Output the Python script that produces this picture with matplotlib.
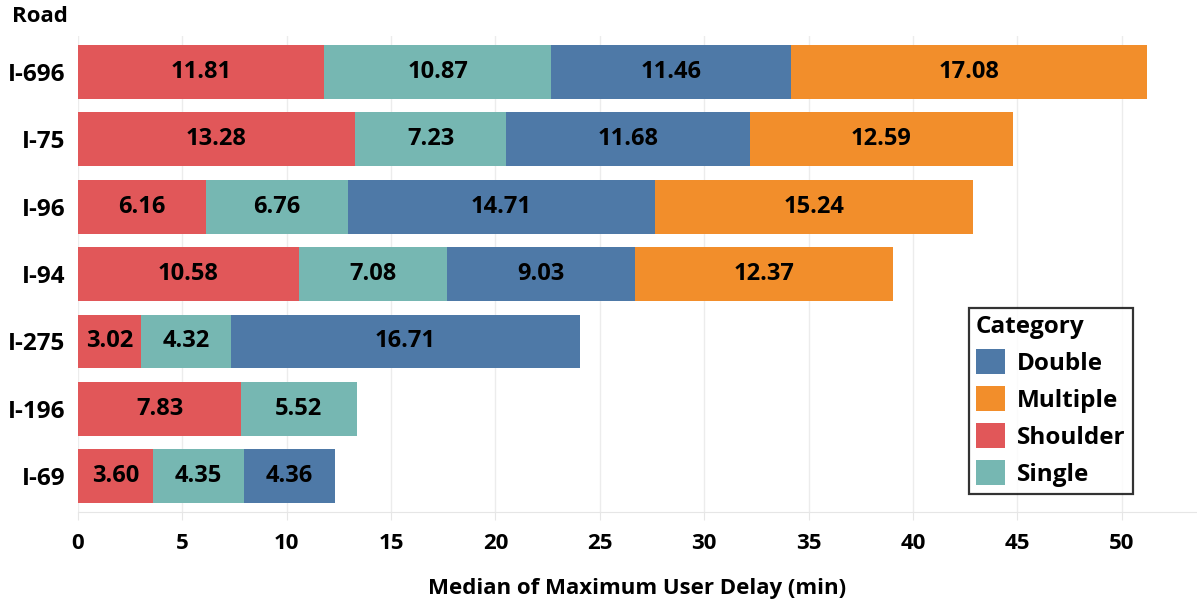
import numpy as np
import matplotlib
matplotlib.use("Agg")
import matplotlib.pyplot as plt
from matplotlib.patches import Patch

plt.rcParams["font.family"] = ["Open Sans", "DejaVu Sans"]
plt.rcParams["font.weight"] = "bold"

roads = ["I-696", "I-75", "I-96", "I-94", "I-275", "I-196", "I-69"]
shoulder = [11.81, 13.28, 6.16, 10.58, 3.02, 7.83, 3.60]
single = [10.87, 7.23, 6.76, 7.08, 4.32, 5.52, 4.35]
double = [11.46, 11.68, 14.71, 9.03, 16.71, np.nan, 4.36]
multiple = [17.08, 12.59, 15.24, 12.37, np.nan, np.nan, np.nan]

# stacking order left to right
stack = [
    ("Shoulder", shoulder, "#E15759"),
    ("Single", single, "#76B7B2"),
    ("Double", double, "#4E79A7"),
    ("Multiple", multiple, "#F28E2B"),
]
legend_order = ["Double", "Multiple", "Shoulder", "Single"]

fig = plt.figure(figsize=(11.97, 5.99), dpi=100)
ax = fig.add_axes([0.065, 0.145, 0.935, 0.795])

y = np.arange(len(roads))
left = np.zeros(len(roads))
for name, vals, color in stack:
    v = np.asarray(vals, dtype=float)
    w = np.nan_to_num(v)
    ax.barh(y, w, left=left, height=0.8, color=color, zorder=2)
    for i, val in enumerate(v):
        if not np.isnan(val):
            ax.text(left[i] + val / 2, y[i], f"{val:.2f}", ha="center", va="center",
                    fontsize=17, fontweight="bold", color="black", zorder=3)
    left += w

ax.set_ylim(len(roads) - 0.47, -0.53)
ax.set_xlim(0, 53.6)
ax.set_yticks(y)
ax.set_yticklabels(roads, fontsize=17.5, fontweight="bold")
ax.set_xticks(np.arange(0, 55, 5))
ax.tick_params(axis="x", labelsize=16, length=6, color="#e6e6e6", pad=9)
ax.tick_params(axis="y", length=0, pad=9)
for lab in ax.get_xticklabels():
    lab.set_fontweight("bold")

ax.grid(axis="x", color="#ececec", linewidth=1, zorder=0)
for s in ["top", "right", "left"]:
    ax.spines[s].set_visible(False)
ax.spines["bottom"].set_color("#e6e6e6")

ax.set_xlabel("Median of Maximum User Delay (min)", fontsize=16, fontweight="bold", labelpad=17)
fig.text(0.01, 0.972, "Road", fontsize=16, fontweight="bold", ha="left", va="center")

colors = {name: color for name, _, color in stack}
handles = [Patch(facecolor=colors[n], label=n) for n in legend_order]
leg = ax.legend(handles=handles, title="Category", loc="lower right",
                bbox_to_anchor=(0.943, 0.038), fontsize=17.5, title_fontsize=17.5,
                frameon=True, fancybox=False, edgecolor="black",
                handlelength=1.2, handleheight=1.2, handletextpad=0.5,
                labelspacing=0.42, borderpad=0.3, borderaxespad=0)
leg._legend_box.align = "left"
leg.get_frame().set_linewidth(1.6)
leg.get_title().set_fontweight("bold")

fig.savefig("out.png", dpi=100)
